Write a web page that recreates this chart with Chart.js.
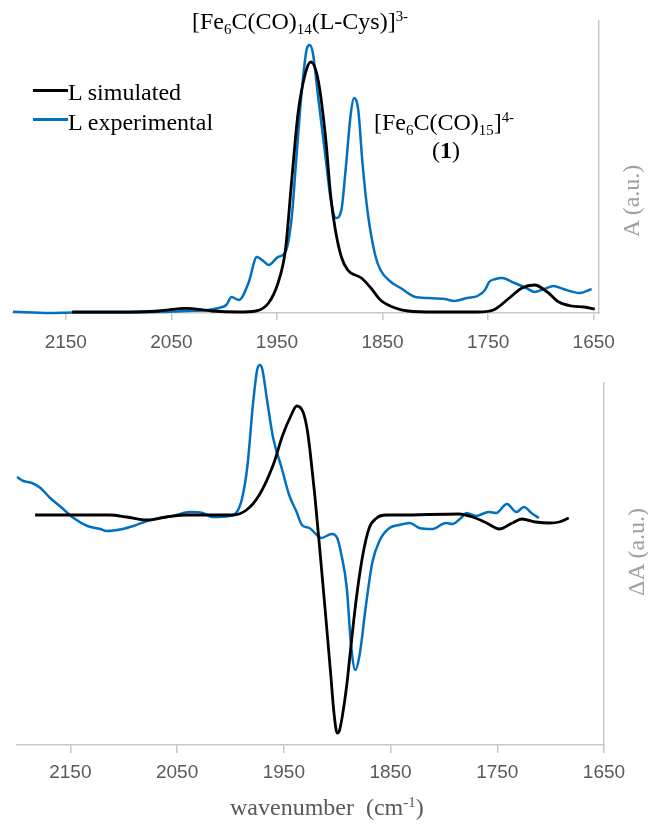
<!DOCTYPE html>
<html><head><meta charset="utf-8">
<script src="https://cdn.jsdelivr.net/npm/chart.js@4"></script>
<style>
html,body{margin:0;padding:0;background:#fff;}
#wrap{position:relative;width:648px;height:826px;overflow:hidden;background:#fff;}
canvas{position:absolute;left:0;}
.t{position:absolute;font-family:"Liberation Serif","Times New Roman",serif;font-size:24px;line-height:24px;white-space:nowrap;color:#000;}
.t sub,.t sup{font-size:0.62em;line-height:0;position:relative;vertical-align:baseline;}
.t sub{top:0.32em;}
.t sup{top:-0.52em;}
.rot{position:absolute;font-family:"Liberation Serif","Times New Roman",serif;font-size:24px;line-height:24px;white-space:nowrap;color:#a0a0a0;transform:translate(-50%,-50%) rotate(-90deg);}
.leg{position:absolute;left:33px;width:35px;}
</style></head>
<body><div id="wrap">
<canvas id="c1" width="648" height="355" style="top:0"></canvas>
<canvas id="c2" width="648" height="471" style="top:355px"></canvas>

<div class="t" style="left:192px;top:9px;">[Fe<sub>6</sub>C(CO)<sub>14</sub>(L-Cys)]<sup>3-</sup></div>
<div class="t" style="left:374px;top:110px;">[Fe<sub>6</sub>C(CO)<sub>15</sub>]<sup>4-</sup></div>
<div class="t" style="left:432px;top:138px;">(<b>1</b>)</div>

<div class="leg" style="top:89px;height:3px;background:#000;"></div>
<div class="t" style="left:68px;top:80px;">L simulated</div>
<div class="leg" style="top:118px;height:2.5px;background:#0070C0;"></div>
<div class="t" style="left:68px;top:110px;">L experimental</div>

<div class="rot" style="left:631px;top:201px;">A (a.u.)</div>
<div class="rot" style="left:636px;top:552px;">ΔA (a.u.)</div>
<div class="t" style="left:230px;top:795px;font-size:24px;color:#595959;">wavenumber&nbsp; (cm<sup>-1</sup>)</div>
</div>
<script>
// ---- data (wavenumber in cm-1, absorbance in arbitrary units) ----
const xTickValues = [2150, 2050, 1950, 1850, 1750, 1650];

const topSimWn = [2144, 2100, 2062, 2036, 2012, 1986, 1970, 1958, 1949, 1942, 1936, 1930, 1923, 1918, 1911, 1904, 1899, 1895, 1889, 1883, 1870, 1861, 1852, 1838, 1826, 1800, 1760, 1745, 1730, 1718, 1706, 1694, 1683, 1671, 1659, 1649];
const topSimA  = [1, 1, 2, 4.7, 2, 1, 2, 10, 30, 63, 133, 200, 240, 251, 233, 176, 116, 85, 56, 43, 35, 25, 13, 5, 2, 1, 1, 3, 15, 25, 28, 21, 11, 7, 6, 4];

const topExpWn = [2200, 2165, 2144, 2100, 2062, 2036, 2015, 2005, 1998, 1993, 1986, 1977, 1969, 1963, 1958, 1949, 1942, 1936, 1932, 1927, 1922, 1919, 1916, 1911, 1904, 1899, 1894, 1889, 1885, 1880, 1877, 1873, 1869, 1864, 1857, 1852, 1842, 1833, 1819, 1807, 1791, 1782, 1770, 1760, 1753, 1749, 1743, 1737, 1725, 1714, 1706, 1697, 1688, 1679, 1663, 1652];
const topExpA  = [1.3, 0, 0.5, 0.5, 1, 2, 3, 5, 8, 16, 13, 30, 56, 52, 48, 56, 61, 96, 150, 216, 263, 268, 260, 216, 156, 113, 95, 103, 143, 200, 215, 203, 150, 100, 58, 43, 31, 25, 16, 15, 14, 12, 15, 17, 23, 31, 34, 35, 30, 25, 21, 24, 27, 24, 20, 24];

const botSimWn = [2183, 2113, 2097, 2078, 2060, 2041, 1998, 1985, 1973, 1960, 1951, 1943, 1938, 1932, 1928, 1925, 1921, 1916, 1911, 1906, 1903, 1900, 1898, 1895, 1891, 1888, 1882, 1876, 1870, 1863, 1854, 1842, 1786, 1773, 1760, 1748, 1736, 1727, 1714, 1701, 1692, 1683];
const botSimD  = [0, 0, -2, -5, -2, 0, 0, 5, 20, 50, 80, 100, 109, 103, 85, 60, 20, -38, -98, -160, -198, -218, -216, -200, -170, -140, -83, -40, -13, -3, 0, 0, 1, -2, -8, -14, -8, -4, -7, -8, -7, -3];

const botExpWn = [2200, 2194, 2186, 2178, 2169, 2160, 2147, 2134, 2122, 2116, 2101, 2091, 2078, 2066, 2054, 2038, 2026, 2017, 2001, 1994, 1989, 1984, 1979, 1975, 1972.5, 1970, 1966, 1960, 1952, 1945, 1938, 1933, 1926, 1919, 1915, 1905, 1900, 1896, 1891, 1887, 1883, 1879, 1873, 1867, 1860, 1851, 1842, 1832, 1823, 1811, 1798, 1792, 1783, 1779, 1770, 1758, 1751, 1741, 1732, 1725, 1718, 1711];
const botExpD  = [38, 34, 32, 27, 17, 9, -3, -11, -14, -16, -14, -11, -6, -3, -1, 3, 2, -2, -1, 3, 17, 50, 110, 145, 150, 145, 117, 77, 47, 20, 3, -10, -13, -20, -23, -19, -23, -40, -73, -130, -155, -140, -90, -47, -25, -13, -10, -8, -13, -14, -8, -9, -2, 2, -1, 3, 2, 11, 3, 8, 2, -3];

function zip(xs, ys){ return xs.map((x,i)=>({x:x, y:ys[i]})); }

const axisGrey = '#c8c8c8';
const tickFont = {family:'"Liberation Sans", Arial, sans-serif', size:19};

function lineDs(label, pts, color, w){
  return {label:label, data:pts, borderColor:color, backgroundColor:color, borderWidth:w,
          pointRadius:0, fill:false, cubicInterpolationMode:'monotone', clip:false};
}

function build(id, datasets, xMin, xMax, yMin, yMax, padTop, padLeft, xH, yW, tickLen, tickPad){
  return new Chart(document.getElementById(id), {
    type:'line',
    data:{datasets:datasets},
    options:{
      responsive:false, animation:false, events:[],
      layout:{padding:{top:padTop, left:padLeft, right:0, bottom:0}},
      plugins:{legend:{display:false}, tooltip:{enabled:false}},
      scales:{
        x:{type:'linear', reverse:true, min:xMin, max:xMax,
           afterBuildTicks:s=>{ s.ticks = xTickValues.map(v=>({value:v})); },
           afterFit:s=>{ s.height = xH; },
           grid:{display:true, drawOnChartArea:false, drawTicks:true, tickLength:tickLen, color:axisGrey, lineWidth:1.5},
           border:{display:true, color:axisGrey, width:1.5},
           ticks:{color:'#595959', font:tickFont, padding:tickPad, maxRotation:0, autoSkip:false, callback:v=>String(v)}},
        y:{position:'right', min:yMin, max:yMax,
           afterFit:s=>{ s.width = yW; },
           grid:{display:false},
           border:{display:true, color:axisGrey, width:1.5},
           ticks:{display:false}}
      }
    }
  });
}

build('c1', [
  lineDs('L simulated', zip(topSimWn, topSimA), '#000000', 2.8),
  lineDs('L experimental', zip(topExpWn, topExpA), '#0070C0', 2.5)
], 1645, 2200, 0, 292, 21, 13, 42, 49, 7, 11);

build('c2', [
  lineDs('L simulated', zip(botSimWn, botSimD), '#000000', 2.8),
  lineDs('L experimental', zip(botExpWn, botExpD), '#0070C0', 2.5)
], 1650, 2200, -230, 132, 28, 17, 81, 44, 8, 8);
</script>
</body></html>
